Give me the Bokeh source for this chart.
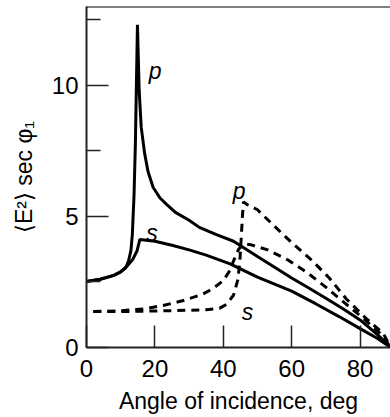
from bokeh.plotting import figure
from bokeh.models import FixedTicker, Range1d, Span, ColumnDataSource
from bokeh.core.properties import value
from bokeh.embed import file_html
from bokeh.resources import INLINE

# Solid curves (angle in deg, <E^2> sec phi1)
solid_p_ang = [0, 4, 8, 10, 11.5, 12.3, 13.0, 13.4, 13.9, 14.3, 14.9, 15.4, 16.0, 17.0, 18.0, 19.5, 21.5,
               23.5, 26, 30, 33, 38, 43, 50, 55, 60, 65, 70, 75, 80, 85, 89]
solid_p_val = [2.52, 2.6, 2.75, 2.88, 3.05, 3.3, 3.7, 4.3, 5.8, 7.8, 12.3, 9.8, 8.4, 7.4, 6.7, 6.1, 5.7,
               5.45, 5.15, 4.85, 4.58, 4.3, 4.05, 3.47, 3.06, 2.65, 2.27, 1.88, 1.48, 1.05, 0.5, 0.0]

solid_s_ang = [0, 4, 8, 10, 11.5, 12.5, 13.5, 14.8, 15.6, 20, 25, 30, 35, 42, 50, 60, 67, 74, 80, 85, 89]
solid_s_val = [2.52, 2.6, 2.75, 2.88, 3.05, 3.2, 3.35, 3.69, 4.12, 4.05, 3.9, 3.72, 3.52, 3.19, 2.68,
               2.15, 1.67, 1.17, 0.72, 0.35, 0.0]

# Dashed curves
dash_p_ang = [2, 10, 20, 30, 35, 39, 41, 43, 44.3, 44.9, 45.3, 45.6, 45.9, 47, 50, 55, 60, 66, 71, 76,
              81.5, 86.8, 89]
dash_p_val = [1.37, 1.37, 1.39, 1.42, 1.44, 1.5, 1.65, 2.0, 2.6, 3.4, 4.3, 5.0, 5.55, 5.45, 5.25, 4.62,
              4.0, 3.31, 2.65, 1.85, 1.14, 0.53, 0.0]

dash_s_ang = [2, 10, 16.6, 22.4, 28.3, 34.1, 37, 40, 42, 43, 44.5, 46, 48, 53, 59, 64.6, 70, 75.4, 80.7,
              86, 89]
dash_s_val = [1.37, 1.4, 1.47, 1.6, 1.79, 2.04, 2.25, 2.55, 2.95, 3.3, 3.75, 3.95, 3.92, 3.72, 3.33,
              2.85, 2.3, 1.71, 1.14, 0.53, 0.0]

x_ticks = [0, 20, 40, 60, 80]
y_ticks = [0, 5, 10]
y_minor = [2.5, 7.5, 12.5]

label_text = ["p", "s", "p", "s"]
label_x = [18.2, 17.5, 42.8, 45.4]
label_y = [10.55, 4.38, 5.95, 1.34]

FONT = "Liberation Sans"

p = figure(width=390, height=417, x_range=Range1d(0, 88.9), y_range=Range1d(0, 13),
           title=None, output_backend="svg", toolbar_location=None,
           min_border_left=86, min_border_right=0, min_border_top=6, min_border_bottom=70)
p.outline_line_color = None
p.grid.visible = False
p.background_fill_color = "white"
p.border_fill_color = "white"

p.line(solid_p_ang, solid_p_val, line_color="black", line_width=3)
p.line(solid_s_ang, solid_s_val, line_color="black", line_width=3)
p.line(dash_p_ang, dash_p_val, line_color="black", line_width=3, line_dash="8 6")
p.line(dash_s_ang, dash_s_val, line_color="black", line_width=3, line_dash="8 6")

src = ColumnDataSource(dict(x=label_x, y=label_y, t=label_text))
p.text(x="x", y="y", text="t", source=src, text_font=value(FONT), text_font_size="23px",
       text_font_style="italic", text_align="left", text_baseline="alphabetic", text_color="black")

p.add_layout(Span(location=13, dimension="width", line_color="black", line_width=2))

p.xaxis.ticker = FixedTicker(ticks=x_ticks, minor_ticks=[])
p.yaxis.ticker = FixedTicker(ticks=y_ticks, minor_ticks=y_minor)
for ax in (p.xaxis, p.yaxis):
    ax.major_tick_in = 22
    ax.major_tick_out = 0
    ax.minor_tick_in = 14
    ax.minor_tick_out = 0
    ax.axis_line_color = "#222222"
    ax.axis_line_width = 2
    ax.major_tick_line_color = "#222222"
    ax.major_tick_line_width = 1.5
    ax.minor_tick_line_color = "#222222"
    ax.minor_tick_line_width = 1.5
    ax.major_label_text_font = FONT
    ax.major_label_text_font_size = "24px"
    ax.major_label_text_color = "black"
    ax.axis_label_text_font = FONT
    ax.axis_label_text_font_size = "23px"
    ax.axis_label_text_font_style = "normal"
    ax.axis_label_text_color = "black"

p.xaxis.major_label_standoff = 12
p.yaxis.major_label_standoff = 8
p.xaxis.axis_label = "Angle of incidence, deg"
p.xaxis.axis_label_standoff = 8
p.yaxis.axis_label = "\u27e8E\u00b2\u27e9 sec \u03c6\u2081"
p.yaxis.axis_label_standoff = 12

open("out.html", "w").write(file_html(p, INLINE))
